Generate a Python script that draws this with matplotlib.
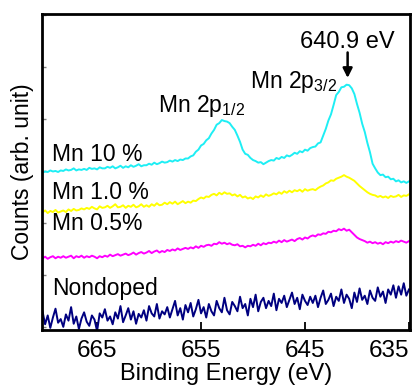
import numpy as np
import matplotlib
matplotlib.use("Agg")
import matplotlib.pyplot as plt

plt.rcParams['font.family'] = ['Liberation Sans', 'DejaVu Sans']
plt.rcParams['mathtext.fontset'] = 'custom'
plt.rcParams['mathtext.rm'] = 'Liberation Sans'
plt.rcParams['mathtext.it'] = 'Liberation Sans'

# Binding energy grid (eV), 0.25 eV step, high to low
energy = np.arange(670.25, 634.99, -0.25)

# Mn 2p spectra (arb. units, stacked)
mn10 = [297, 299, 298, 301, 299, 300, 298, 301,
        300, 303, 301, 302, 305, 301, 303, 302,
        304, 302, 306, 304, 305, 303, 307, 305,
        305, 308, 306, 309, 305, 307, 310, 306,
        309, 307, 311, 308, 310, 313, 309, 311,
        311, 314, 312, 316, 313, 315, 318, 316,
        317, 320, 318, 321, 319, 322, 321, 324,
        324, 328, 330, 337, 341, 349, 352, 359,
        363, 372, 379, 389, 392, 398, 396, 395,
        392, 385, 379, 368, 356, 341, 333, 331,
        325, 321, 319, 316, 317, 313, 316, 319,
        321, 320, 325, 323, 327, 325, 330, 328,
        331, 335, 333, 338, 336, 341, 339, 344,
        346, 347, 353, 355, 368, 381, 397, 409,
        427, 446, 452, 461, 462, 466, 465, 459,
        448, 429, 412, 391, 375, 354, 336, 314,
        305, 297, 292, 293, 288, 289, 284, 285,
        280, 282, 278, 280, 277, 280]

mn1 = [220, 224, 219, 223, 221, 225, 220, 222,
       224, 221, 226, 223, 227, 224, 225, 228,
       226, 229, 227, 231, 228, 226, 232, 229,
       230, 233, 229, 232, 236, 230, 231, 234,
       229, 233, 231, 235, 230, 232, 236, 231,
       234, 231, 236, 233, 238, 234, 235, 239,
       236, 240, 237, 241, 236, 239, 242, 238,
       241, 239, 243, 242, 246, 249, 247, 251,
       250, 254, 256, 253, 258, 255, 259, 256,
       257, 253, 255, 251, 254, 249, 251, 247,
       249, 246, 251, 249, 253, 250, 255, 252,
       254, 257, 255, 259, 256, 261, 258, 262,
       259, 263, 261, 264, 260, 265, 262, 264,
       265, 263, 267, 270, 272, 276, 278, 282,
       281, 285, 287, 289, 292, 289, 287, 284,
       281, 276, 271, 267, 263, 259, 256, 254,
       253, 250, 252, 249, 251, 248, 252, 250,
       251, 254, 250, 253, 252, 255]

mn05 = [132, 135, 131, 134, 136, 132, 135, 133,
        136, 133, 135, 137, 132, 136, 134, 137,
        133, 136, 134, 137, 135, 132, 136, 134,
        137, 135, 139, 136, 138, 140, 137, 139,
        141, 138, 140, 143, 139, 142, 144, 141,
        143, 146, 142, 145, 147, 143, 146, 144,
        148, 146, 149, 147, 151, 148, 150, 152,
        150, 153, 151, 155, 152, 156, 154, 157,
        158, 156, 160, 159, 163, 160, 162, 159,
        161, 158, 157, 159, 155, 156, 153, 156,
        155, 158, 156, 160, 157, 161, 159, 162,
        161, 164, 162, 166, 163, 167, 164, 166,
        168, 165, 169, 171, 168, 172, 170, 174,
        176, 174, 178, 177, 180, 179, 183, 182,
        185, 184, 188, 186, 189, 185, 187, 182,
        177, 172, 169, 167, 165, 162, 164, 161,
        163, 160, 162, 159, 163, 161, 164, 162,
        165, 163, 166, 164, 162, 165]

nondoped = [30, 5, 22, -2, 18, 35, 8, 15,
            0, 24, 12, 38, 6, 20, -4, 16,
            28, 10, 2, 22, 14, -8, 26, 18,
            34, 12, 20, 5, 28, 16, 40, 9,
            22, 36, 14, 30, 6, 25, 18, 32,
            12, 40, 26, 20, 44, 16, 30, 24,
            38, 18, 34, 50, 22, 36, 14, 42,
            28, 46, 20, 34, 52, 26, 38, 18,
            44, 30, 22, 50, 36, 28, 56, 32,
            24, 48, 40, 30, 58, 36, 44, 22,
            54, 38, 62, 30, 48, 56, 36, 50,
            40, 64, 32, 54, 46, 60, 38, 52,
            66, 44, 56, 34, 62, 50, 42, 58,
            46, 60, 38, 56, 70, 44, 52, 64,
            40, 58, 50, 72, 46, 62, 54, 36,
            66, 48, 74, 52, 60, 44, 70, 56,
            50, 76, 58, 68, 46, 72, 62, 80,
            56, 78, 62, 84, 60, 72]

series_labels = ["Mn 10 %", "Mn 1.0 %", "Mn 0.5%", "Nondoped"]
series_colors = ["#1EEEF4", "#FFFF00", "#FF00FF", "#000080"]
xticks = [665, 655, 645, 635]

fig = plt.figure(figsize=(4.17, 3.88), dpi=100)
ax = fig.add_axes([0.1007, 0.1495, 0.8825, 0.8144])

for y, c in zip([mn10, mn1, mn05, nondoped], series_colors):
    ax.plot(energy, y, color=c, lw=1.4, zorder=2)

ax.set_xlim(670.3, 634.9)
ax.set_ylim(-6, 602)
ax.set_xticks(xticks)
ax.set_xticklabels([str(t) for t in xticks])
ax.get_xticklabels()[-1].set_horizontalalignment('right')
ax.set_yticks(range(0, 601, 100))
ax.set_yticklabels([])

ax.tick_params(axis='x', direction='in', length=6, width=1.3, color='black',
               labelsize=17.5, pad=7, top=False)
ax.tick_params(axis='y', direction='in', length=3, width=1.0, color='#808080',
               right=False)
for s in ax.spines.values():
    s.set_linewidth(2.0)

ax.set_xlabel("Binding Energy (eV)", fontsize=17, labelpad=1)
ax.set_ylabel("Counts (arb. unit)", fontsize=16.5)
ax.yaxis.set_label_coords(-0.022, 0.5)

# series names
label_y = [319, 246, 187, 62]
for txt, yy in zip(series_labels, label_y):
    ax.text(669.3, yy, txt, fontsize=16.5, ha='left', va='baseline', zorder=3)

# peak annotations
ax.text(659.1, 413, "Mn 2p$_{1/2}$", fontsize=16.5, ha='left', va='baseline')
ax.text(650.3, 460, "Mn 2p$_{3/2}$", fontsize=16.5, ha='left', va='baseline')
ax.text(640.9, 537, "640.9 eV", fontsize=17, ha='center', va='baseline')
ax.annotate('', xy=(640.9, 479), xytext=(640.9, 528),
            arrowprops=dict(arrowstyle='-|>', color='black', lw=1.8,
                            mutation_scale=14, shrinkA=0, shrinkB=0))

fig.savefig("out.png", dpi=100)
